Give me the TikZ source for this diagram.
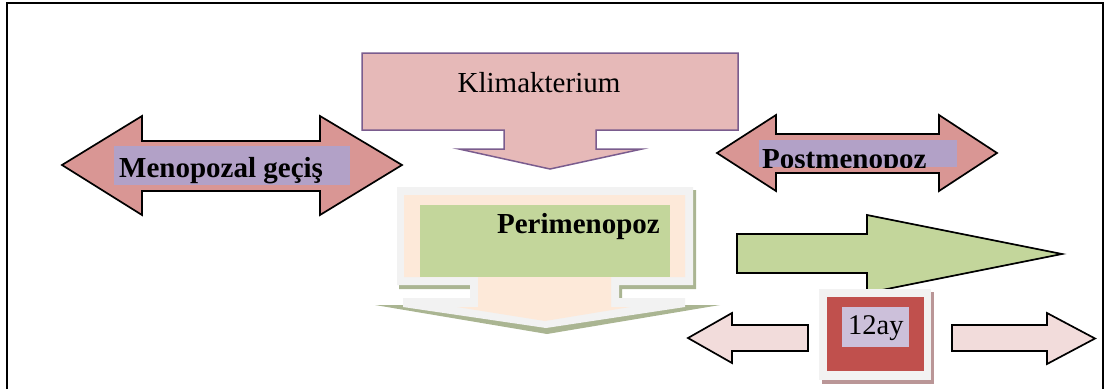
\documentclass[tikz,border=0pt]{standalone}
\usepackage{fontspec}
\setmainfont{Liberation Serif}
\definecolor{klim}{HTML}{E6B9B8}
\definecolor{klimline}{HTML}{7A5C8E}
\definecolor{redarr}{HTML}{D99694}
\definecolor{lilac}{HTML}{B2A1C7}
\definecolor{pgreen}{HTML}{C3D69B}
\definecolor{peach}{HTML}{FDE9D9}
\definecolor{lgrey}{HTML}{F2F2F2}
\definecolor{shadg}{HTML}{AAB592}
\definecolor{pinkarr}{HTML}{F2DCDB}
\definecolor{boxred}{HTML}{C0504D}
\definecolor{lav}{HTML}{CCC0DA}
\definecolor{shadr}{HTML}{BA9697}
\begin{document}
\begin{tikzpicture}[x=1pt,y=-1pt,
  outl/.style={draw=black,line width=1.7pt,line join=miter},
  txt/.style={inner sep=0pt,font=\fontsize{29}{34}\selectfont},
  btxt/.style={inner sep=0pt,font=\fontsize{29}{34}\selectfont\bfseries}]
\useasboundingbox (0,0) rectangle (1107,389);
% frame
\draw[line width=1.8pt] (6.7,389) -- (6.7,3.3) -- (1102.7,3.3) -- (1102.7,389);
% Klimakterium callout
\draw[fill=klim,draw=klimline,line width=1.5pt] (362,53) -- (738,53) -- (738,130) -- (596,130) -- (596,149) -- (642,149) -- (550,169) -- (459,149) -- (504,149) -- (504,130) -- (362,130) -- cycle;
\node[txt,anchor=base] (klim) at (539,92) {Klimakterium};
% Menopozal gecis double arrow
\draw[outl,fill=redarr] (62,165) -- (142,116) -- (142,141) -- (320,141) -- (320,116) -- (402,165) -- (320,215) -- (320,191) -- (142,191) -- (142,215) -- cycle;
\fill[lilac] (114,146) rectangle (350,185);
\node[btxt,anchor=base west] (meno) at (119,177) {Menopozal geçiş};
% Postmenopoz double arrow
\draw[outl,fill=redarr] (717,153) -- (776,115) -- (776,134) -- (939,134) -- (939,115) -- (997,153) -- (939,191) -- (939,173) -- (776,173) -- (776,191) -- cycle;
\fill[lilac] (759,140) rectangle (957,167);
\begin{scope}
\clip (759,140) rectangle (957,167);
\node[btxt,anchor=base west] (post) at (762,168) {Postmenopoz};
\end{scope}
% Perimenopoz callout
\fill[shadg] (399,190) -- (696,190) -- (696,289) -- (622,289) -- (622,305) -- (720,305) -- (547,334) -- (375,305) -- (473,305) -- (473,289) -- (399,289) -- cycle;
\fill[lgrey] (397,187) -- (693,187) -- (693,285) -- (619,285) -- (619,298) -- (685,298) -- (685,307) -- (546,328) -- (403,307) -- (403,298) -- (470,298) -- (470,285) -- (397,285) -- cycle;
\fill[peach] (404,195) -- (685,195) -- (685,277) -- (611,277) -- (611,307) -- (630,307) -- (545,321) -- (457,307) -- (478,307) -- (478,277) -- (404,277) -- cycle;
\fill[pgreen] (420,205) rectangle (670,277);
\node[btxt,anchor=base east] (peri) at (660,233) {Perimenopoz};
% green arrow
\draw[outl,fill=pgreen] (737,234) -- (867,234) -- (867,215) -- (1062,254) -- (867,293) -- (867,273) -- (737,273) -- cycle;
% small arrows
\draw[outl,fill=pinkarr] (688,338) -- (732,313) -- (732,325) -- (808,325) -- (808,351) -- (732,351) -- (732,363) -- cycle;
\draw[outl,fill=pinkarr] (952,325) -- (1047,325) -- (1047,313) -- (1095,338.5) -- (1047,364) -- (1047,351) -- (952,351) -- cycle;
% 12ay box
\fill[shadr] (822,292) rectangle (934,384);
\fill[lgrey] (819,289) rectangle (931,380);
\fill[boxred] (827,297) rectangle (924,371);
\fill[lav] (842,307) rectangle (909,347);
\node[inner sep=0pt,font=\fontsize{28.5}{33}\selectfont,anchor=base west] (ay) at (848,334) {12ay};
\end{tikzpicture}
\end{document}
